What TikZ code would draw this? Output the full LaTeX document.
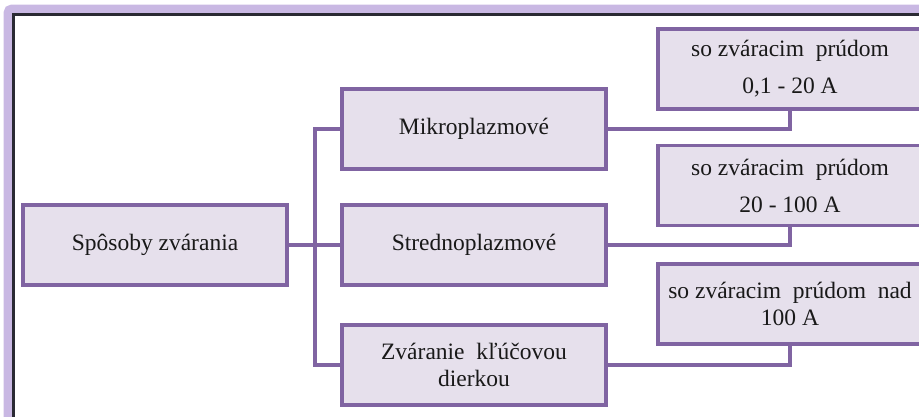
\documentclass[tikz,border=0pt]{standalone}
\usepackage{fontspec}
\setmainfont{Liberation Serif}
\definecolor{boxline}{HTML}{8064A2}
\definecolor{boxfill}{HTML}{E6E0EC}
\definecolor{glow}{HTML}{C9B8E3}
\definecolor{frameline}{HTML}{2A2A33}
\tikzset{
  stepbox/.style={draw=boxline, line width=3.6pt, fill=boxfill, rectangle,
    minimum width=264pt, minimum height=80pt, align=center, inner sep=0pt,
    font=\fontsize{23.5}{27}\selectfont, text=black!90},
  link/.style={draw=boxline, line width=3.6pt}
}
\begin{document}
\begin{tikzpicture}[x=1pt,y=-1pt]
\useasboundingbox (0,0) rectangle (919,416);
\clip (0,0) rectangle (919,416);
% frame
\draw[glow, line width=9pt, rounded corners=4pt] (8,9) rectangle (960,460);
\draw[frameline, line width=2.5pt] (13.5,14.5) rectangle (960,460);
% nodes
\node[stepbox] (sp) at (155,245) {Spôsoby zvárania};
\node[stepbox] (mik) at (474,129) {Mikroplazmové};
\node[stepbox] (st) at (474,245) {Strednoplazmové};
\node[stepbox] (zv) at (474,365) {Zváranie\ \ kľúčovou\\dierkou};
\node[stepbox] (r1) at (790,69) {so zváracim\ \ prúdom\\[10pt]0,1 - 20 A};
\node[stepbox] (r2) at (790,185.5) {so zváracim\ \ prúdom\\[10pt]20 - 100 A};
\node[stepbox] (r3) at (790,304) {so zváracim\ \ prúdom\ \ nad\\100 A};
% connectors
\coordinate (tr) at (315,245);
\draw[link] (sp.east) -- (st.west);
\draw[link] (mik.west) -- (mik.west -| tr) -- (zv.west -| tr) -- (zv.west);
\draw[link] (mik.east) -| (r1.south);
\draw[link] (st.east) -| (r2.south);
\draw[link] (zv.east) -| (r3.south);
\end{tikzpicture}
\end{document}
